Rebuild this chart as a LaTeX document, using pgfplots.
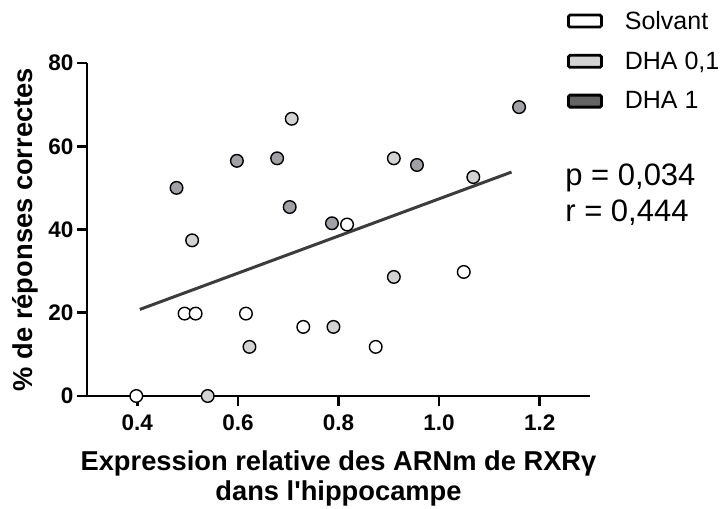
\documentclass[border=0pt]{standalone}
\usepackage{fontspec}
\setmainfont{Liberation Sans}
\usepackage{pgfplots}
\pgfplotsset{compat=1.18}
\definecolor{lgray}{RGB}{211,211,211}
\definecolor{mgray}{RGB}{160,160,166}
\definecolor{dgray}{RGB}{100,100,100}
\definecolor{lineg}{RGB}{60,60,60}
\begin{document}
\begin{tikzpicture}
\useasboundingbox (-87bp,-113bp) rectangle (640bp,396bp);
\begin{axis}[
  at={(0,0)}, anchor=south west, scale only axis,
  width=503bp, height=333bp,
  xmin=0.3, xmax=1.3, ymin=0, ymax=80, clip=false,
  axis x line*=bottom, axis y line*=left,
  axis line style={line width=2.7bp, -, black},
  xtick={0.4,0.6,0.8,1.0,1.2},
  ytick={0,20,40,60,80},
  tick align=outside, major tick length=10bp,
  tick style={line width=2.7bp, black},
  /pgf/number format/assume math mode=true,
  xticklabel style={yshift=-5bp, /pgf/number format/fixed, /pgf/number format/fixed zerofill, /pgf/number format/precision=1},
  tick label style={font=\bfseries\fontsize{22.5bp}{26bp}\selectfont},
  xlabel={Expression relative des ARNm de RXRγ\\[0bp]dans l\textquotesingle hippocampe},
  ylabel={\% de réponses correctes},
  label style={font=\bfseries\fontsize{27.3bp}{30bp}\selectfont},
  xlabel style={at={(axis description cs:0.5,0)}, yshift=-55bp, anchor=north, inner sep=0pt, align=center},
  ylabel style={at={(axis description cs:-0.123,0.5)}, anchor=center},
  legend style={at={(axis description cs:0.954,1.162)}, anchor=north west,
    draw=none, fill=none, inner sep=0pt, row sep=17bp,
    font=\fontsize{25bp}{28bp}\selectfont,
    /tikz/every odd column/.append style={column sep=20bp}},
  legend cell align=left,
]
\addplot[lineg, line width=3bp, forget plot] coordinates {(0.405,20.8) (1.144,53.8)};
\addplot[only marks, mark=*, mark size=6.3bp, mark options={draw=black, line width=1.4bp, fill=white},
  legend image code/.code={\draw[line width=2.8bp, fill=white, rounded corners=1.5bp] (0bp,-6bp) rectangle (33bp,6bp);}]
  coordinates {(0.817,41.2) (1.049,29.8) (0.494,19.8) (0.516,19.8) (0.616,19.8) (0.730,16.6) (0.874,11.8) (0.398,0)};
\addlegendentry{Solvant}
\addplot[only marks, mark=*, mark size=6.3bp, mark options={draw=black, line width=1.4bp, fill=lgray},
  legend image code/.code={\draw[line width=2.8bp, fill=lgray, rounded corners=1.5bp] (0bp,-6bp) rectangle (33bp,6bp);}]
  coordinates {(0.707,66.6) (0.910,57.1) (1.068,52.6) (0.910,28.6) (0.509,37.4) (0.623,11.8) (0.790,16.6) (0.540,0)};
\addlegendentry{DHA 0,1}
\addplot[only marks, mark=*, mark size=6.3bp, mark options={draw=black, line width=1.4bp, fill=mgray},
  legend image code/.code={\draw[line width=2.8bp, fill=dgray, rounded corners=1.5bp] (0bp,-6bp) rectangle (33bp,6bp);}]
  coordinates {(0.598,56.5) (0.678,57.1) (0.478,50.0) (0.703,45.4) (0.787,41.5) (0.956,55.5) (1.159,69.4)};
\addlegendentry{DHA 1}
\node[anchor=base west, font=\fontsize{31bp}{36bp}\selectfont] at (axis description cs:0.944,0.631) {p = 0,034};
\node[anchor=base west, font=\fontsize{31bp}{36bp}\selectfont] at (axis description cs:0.944,0.523) {r = 0,444};
\end{axis}
\end{tikzpicture}
\end{document}
